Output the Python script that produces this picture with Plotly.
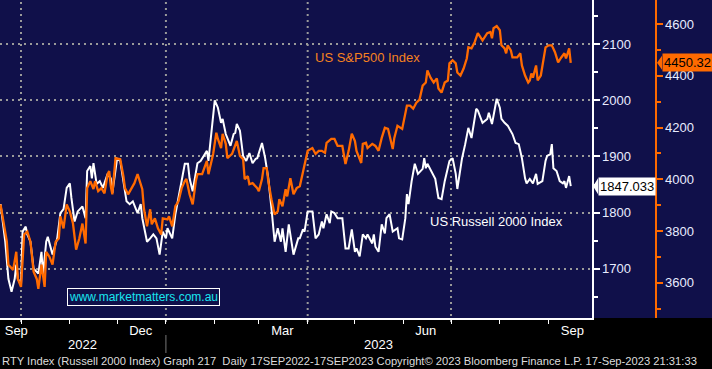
import plotly.graph_objects as go
import pandas as pd

# ---------------- data ----------------
BASE = pd.Timestamp("2022-09-17")
X_RANGE = ["2022-09-17 16:00", "2023-09-28 12:00"]

rut_day = [1, 4, 6, 8, 10, 11, 12, 14, 15, 17, 18, 20, 22, 24, 25, 27, 28, 30, 31, 34,
           36, 37, 39, 41, 43, 45, 46, 48, 50, 53, 55, 56, 58, 59, 60, 62, 64, 66, 69, 71,
           72, 75, 77, 79, 81, 83, 85, 88, 90, 91, 94, 96, 98, 100, 102, 104, 106, 107, 110, 112,
           113, 116, 118, 120, 121, 123, 126, 128, 130, 132, 133, 135, 137, 139, 141, 142, 144, 147, 149, 150,
           151, 153, 155, 157, 159, 161, 163, 164, 167, 169, 171, 173, 175, 177, 179, 180, 182, 184, 186, 187,
           190, 191, 193, 194, 196, 199, 201, 203, 205, 206, 208, 210, 211, 213, 215, 218, 220, 222, 224, 226,
           227, 229, 231, 233, 234, 237, 238, 239, 241, 243, 245, 246, 248, 250, 253, 254, 256, 258, 259, 260,
           262, 264, 266, 269, 270, 271, 272, 275, 277, 279, 281, 283, 285, 286, 288, 290, 291, 294, 296, 298,
           300, 301, 303, 304, 307, 310, 311, 313, 315, 316, 318, 319, 321, 323, 326, 328, 330, 332, 334, 335,
           337, 339, 341, 342, 345, 347, 348, 350, 351, 352, 354, 356, 358, 359, 360, 362, 363]
rut_val = [1815, 1748, 1682, 1659, 1682, 1707, 1682, 1671, 1766, 1775, 1761, 1748, 1700, 1695, 1691, 1730, 1689, 1748, 1757, 1725,
           1748, 1754, 1799, 1806, 1844, 1852, 1826, 1784, 1802, 1811, 1790, 1874, 1883, 1861, 1888, 1851, 1856, 1844, 1869, 1861,
           1835, 1896, 1892, 1856, 1820, 1815, 1820, 1799, 1815, 1790, 1748, 1754, 1761, 1754, 1725, 1766, 1754, 1772, 1754, 1797,
           1811, 1856, 1887, 1887, 1861, 1838, 1888, 1892, 1901, 1910, 1892, 1951, 2000, 1987, 1960, 1967, 1940, 1919, 1940, 1942,
           1958, 1946, 1901, 1892, 1906, 1888, 1896, 1897, 1924, 1897, 1861, 1808, 1748, 1772, 1748, 1772, 1730, 1779, 1743, 1725,
           1754, 1754, 1770, 1766, 1802, 1802, 1754, 1761, 1784, 1772, 1797, 1781, 1802, 1799, 1790, 1790, 1736, 1736, 1770, 1730,
           1736, 1722, 1761, 1754, 1761, 1745, 1761, 1739, 1730, 1779, 1763, 1790, 1797, 1766, 1772, 1754, 1752, 1790, 1833, 1815,
           1856, 1887, 1869, 1878, 1897, 1879, 1887, 1869, 1860, 1826, 1824, 1856, 1879, 1892, 1897, 1869, 1842, 1897, 1922, 1951,
           1933, 1951, 1985, 1982, 1960, 1967, 1978, 1958, 1987, 2003, 1987, 1967, 1960, 1955, 1940, 1924, 1922, 1897, 1861, 1852,
           1860, 1852, 1869, 1851, 1856, 1892, 1901, 1904, 1922, 1879, 1874, 1856, 1852, 1856, 1844, 1865, 1847.033]

spx_day = [1, 3, 5, 6, 9, 11, 12, 14, 16, 18, 20, 22, 24, 25, 27, 29, 30, 32, 34, 36,
           38, 39, 41, 43, 45, 47, 49, 51, 53, 55, 56, 58, 60, 61, 63, 65, 67, 69, 70, 71,
           72, 74, 77, 79, 80, 82, 84, 86, 88, 91, 92, 94, 96, 97, 99, 101, 103, 104, 107, 108,
           110, 112, 114, 116, 118, 119, 121, 123, 125, 126, 129, 131, 132, 133, 136, 138, 139, 141, 142, 144,
           145, 148, 150, 151, 153, 155, 156, 158, 159, 161, 164, 165, 167, 168, 170, 171, 173, 175, 177, 178,
           180, 182, 183, 185, 187, 189, 191, 194, 196, 199, 201, 203, 205, 207, 208, 211, 213, 215, 218, 220,
           222, 224, 226, 227, 230, 231, 233, 234, 237, 239, 241, 243, 245, 247, 250, 251, 253, 256, 257, 259,
           261, 263, 265, 267, 269, 271, 272, 274, 276, 278, 279, 281, 283, 285, 286, 288, 290, 291, 293, 295,
           297, 298, 300, 302, 304, 305, 307, 310, 312, 313, 314, 316, 318, 319, 321, 322, 323, 325, 326, 329,
           331, 332, 334, 336, 337, 338, 339, 341, 342, 344, 345, 347, 349, 351, 353, 355, 357, 359, 360, 362, 363]
spx_val = [3903, 3826, 3759, 3670, 3650, 3720, 3615, 3584, 3787, 3798, 3759, 3643, 3615, 3577, 3670, 3584, 3720, 3701, 3670, 3759,
           3771, 3857, 3810, 3903, 3876, 3829, 3728, 3771, 3829, 3752, 3966, 3993, 3962, 3993, 3954, 3966, 3946, 4020, 4032, 3973,
           3942, 4082, 4078, 4012, 3966, 3942, 3966, 3985, 4020, 3962, 3888, 3818, 3884, 3826, 3849, 3810, 3787, 3849, 3845, 3857,
           3818, 3896, 3915, 3966, 3993, 4001, 3942, 3903, 3993, 4020, 4020, 4051, 4071, 4020, 4098, 4180, 4156, 4121, 4176, 4137,
           4082, 4098, 4137, 4148, 4090, 4078, 4001, 4012, 3981, 3985, 3966, 3954, 4001, 4043, 4043, 3993, 3923, 3864, 3876, 3923,
           3896, 3962, 3934, 4004, 3942, 3966, 3973, 4059, 4110, 4121, 4098, 4110, 4110, 4102, 4141, 4156, 4156, 4129, 4129, 4059,
           4110, 4176, 4148, 4110, 4063, 4137, 4141, 4121, 4137, 4129, 4110, 4160, 4199, 4195, 4117, 4160, 4207, 4195, 4226, 4285,
           4285, 4273, 4296, 4308, 4362, 4374, 4421, 4393, 4374, 4390, 4351, 4335, 4374, 4382, 4448, 4460, 4448, 4413, 4401, 4428,
           4467, 4510, 4506, 4530, 4565, 4557, 4537, 4565, 4569, 4545, 4584, 4592, 4576, 4518, 4506, 4487, 4518, 4498, 4471, 4471,
           4487, 4440, 4401, 4374, 4382, 4409, 4393, 4440, 4382, 4401, 4440, 4510, 4518, 4518, 4491, 4452, 4471, 4487, 4467, 4506, 4450.32]

month_label_dates = ["2022-09-28", "2022-12-16", "2023-03-16", "2023-06-15", "2023-09-16"]
month_labels = ["Sep", "Dec", "Mar", "Jun", "Sep"]
month_starts = ["2022-10-01", "2022-11-01", "2022-12-01", "2023-01-01", "2023-02-01", "2023-03-01",
                "2023-04-01", "2023-05-01", "2023-06-01", "2023-07-01", "2023-08-01", "2023-09-01"]
quarter_starts = ["2022-10-01", "2023-01-01", "2023-04-01", "2023-07-01"]
year_labels = ["2022", "2023"]
year_split = "2023-01-01"

rut_ticks = [1700, 1800, 1900, 2000, 2100]
spx_ticks = [3600, 3800, 4000, 4200, 4400, 4600]
RUT_RANGE = [1612, 2179]
SPX_RANGE = [3464, 4693]

footer = ("RTY Index (Russell 2000 Index) Graph 217  Daily 17SEP2022-17SEP2023 "
          "Copyright\u00a9 2023 Bloomberg Finance L.P. 17-Sep-2023 21:31:33")

# ---------------- styling ----------------
NAVY = "#10104a"
ORANGE = "#ff6a00"
ORANGE_TXT = "#f5821f"
GRID = "#9a9a9a"
TICKTXT = "#e8ecff"
FONT = "Liberation Sans, Arial, sans-serif"
W, H = 712, 369
PLOT_H = 318
XDOM = 592 / W
RUT_PX = (RUT_RANGE[1] - RUT_RANGE[0]) / PLOT_H   # data units per pixel
SPX_PX = (SPX_RANGE[1] - SPX_RANGE[0]) / PLOT_H


def py(pix):
    """pixel row (from top of page) -> paper y"""
    return (PLOT_H - pix) / PLOT_H


rut_dates = BASE + pd.to_timedelta(rut_day, unit="D")
spx_dates = BASE + pd.to_timedelta(spx_day, unit="D")

fig = go.Figure()
fig.add_trace(go.Scatter(x=spx_dates, y=spx_val, yaxis="y2", mode="lines",
                         line=dict(color=ORANGE, width=2.3), hoverinfo="skip"))
fig.add_trace(go.Scatter(x=rut_dates, y=rut_val, yaxis="y", mode="lines",
                         line=dict(color="white", width=2), hoverinfo="skip"))

shapes = [dict(type="rect", xref="paper", yref="paper", x0=XDOM, x1=1, y0=0, y1=1,
               fillcolor=NAVY, line=dict(width=0), layer="below")]
for q in quarter_starts:
    shapes.append(dict(type="line", xref="x", yref="paper", x0=q, x1=q, y0=py(322), y1=1,
                       line=dict(color=GRID, width=2, dash="2px,4px"), layer="below"))
shapes.append(dict(type="line", xref="x", yref="paper", x0=year_split, x1=year_split,
                   y0=py(335), y1=py(353), line=dict(color="#777777", width=1)))

# pointer triangles for last-value labels
rl, sl = rut_val[-1], spx_val[-1]
shapes.append(dict(type="path", xref="paper", yref="y",
                   path=f"M {593/W},{rl} L {598/W},{rl + 8*RUT_PX} L {598/W},{rl - 8*RUT_PX} Z",
                   fillcolor="white", line=dict(width=0)))
shapes.append(dict(type="path", xref="paper", yref="y2",
                   path=f"M {657/W},{sl} L {662/W},{sl + 7*SPX_PX} L {662/W},{sl - 7*SPX_PX} Z",
                   fillcolor=ORANGE, line=dict(width=0)))

t0 = pd.Timestamp(X_RANGE[0]); t1 = pd.Timestamp(X_RANGE[1]); ts = pd.Timestamp(year_split)
year_pos = [t0 + (ts - t0) / 2, ts + (t1 - ts) / 2]

annotations = []
for yp, yl in zip(year_pos, year_labels):
    annotations.append(dict(x=yp, xref="x", y=py(344), yref="paper", text=yl, showarrow=False,
                            font=dict(family=FONT, size=13, color="white"), yanchor="middle"))
annotations.append(dict(x=0, xref="paper", y=py(361), yref="paper", text=footer, showarrow=False,
                        xanchor="left", yanchor="middle",
                        font=dict(family=FONT, size=11.2, color="#dcdcdc")))
annotations.append(dict(x=313 / W, xref="paper", y=py(58), yref="paper", text="US S&P500 Index",
                        showarrow=False, xanchor="left", yanchor="middle",
                        font=dict(family=FONT, size=13, color=ORANGE_TXT)))
annotations.append(dict(x=428 / W, xref="paper", y=py(221), yref="paper", text="US Russell 2000 Index",
                        showarrow=False, xanchor="left", yanchor="middle",
                        font=dict(family=FONT, size=13, color="white")))
annotations.append(dict(x=143.5 / W, xref="paper", y=py(297), yref="paper",
                        text="www.marketmatters.com.au", showarrow=False,
                        xanchor="center", yanchor="middle", bgcolor=NAVY,
                        bordercolor="white", borderwidth=1, borderpad=1,
                        font=dict(family=FONT, size=12, color="#19e6f0")))
annotations.append(dict(x=598 / W, xref="paper", y=rl, yref="y",
                        text=f"{rl:.3f}", showarrow=False, xanchor="left", yanchor="middle",
                        bgcolor="white", borderpad=1,
                        font=dict(family=FONT, size=13, color="black")))
annotations.append(dict(x=662 / W, xref="paper", y=sl, yref="y2",
                        text=f"{sl:.2f}", showarrow=False, xanchor="left", yanchor="middle",
                        bgcolor=ORANGE, borderpad=1,
                        font=dict(family=FONT, size=13, color="black")))

fig.update_layout(
    width=W, height=H,
    margin=dict(l=0, r=0, t=0, b=H - PLOT_H, pad=0),
    paper_bgcolor="black", plot_bgcolor=NAVY,
    showlegend=False,
    font=dict(family=FONT, color="white"),
    xaxis=dict(domain=[0, XDOM], type="date", range=X_RANGE,
               tickmode="array", tickvals=month_label_dates, ticktext=month_labels,
               ticks="", showgrid=False, zeroline=False,
               showline=True, linecolor="white", linewidth=1.5,
               tickfont=dict(family=FONT, size=13, color="white"),
               minor=dict(tickmode="array", tickvals=month_starts, ticks="outside",
                          ticklen=4, tickcolor="white", tickwidth=1, showgrid=False)),
    yaxis=dict(side="right", range=RUT_RANGE, tickmode="array", tickvals=rut_ticks,
               showgrid=True, gridcolor=GRID, gridwidth=2, griddash="2px,4px",
               zeroline=False, showline=True, linecolor="white", linewidth=1.5,
               ticks="outside", ticklen=6, tickwidth=2, tickcolor="white",
               tickfont=dict(family=FONT, size=13, color=TICKTXT),
               minor=dict(dtick=50, tick0=1650, ticks="outside", ticklen=4,
                          tickcolor="white", showgrid=False)),
    yaxis2=dict(overlaying="y", anchor="free", position=655 / W, side="right",
                range=SPX_RANGE, tickmode="array", tickvals=spx_ticks,
                showgrid=False, zeroline=False, showline=True, linecolor=ORANGE, linewidth=1.5,
                ticks="outside", ticklen=6, tickwidth=2, tickcolor=ORANGE,
                tickfont=dict(family=FONT, size=13, color=TICKTXT),
                minor=dict(dtick=100, tick0=3500, ticks="outside", ticklen=4,
                           tickcolor=ORANGE, showgrid=False)),
    shapes=shapes,
    annotations=annotations,
)

fig.write_html("out.html", config={"displayModeBar": False, "staticPlot": True},
               post_script="document.body.style.margin='0';document.body.style.overflow='hidden';")
